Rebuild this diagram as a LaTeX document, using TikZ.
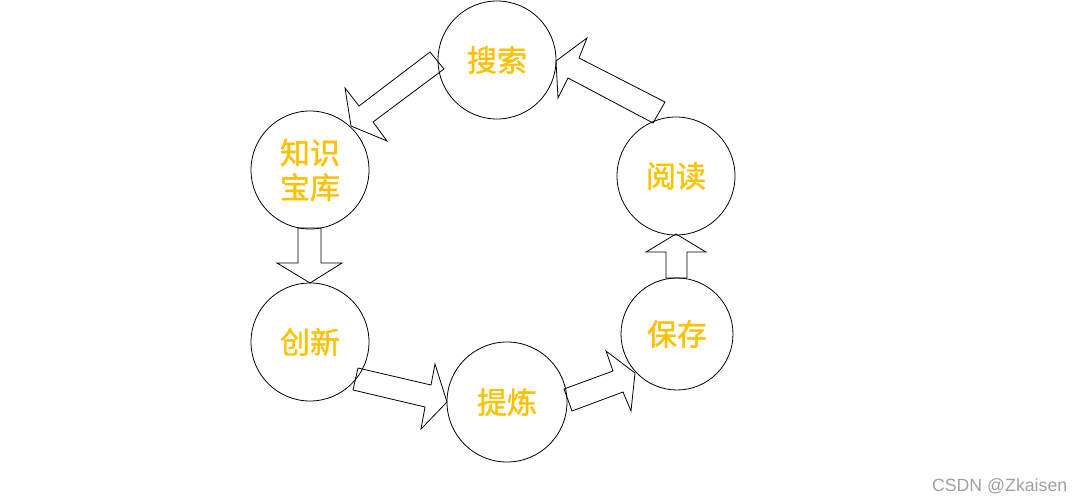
\documentclass[tikz,border=0pt]{standalone}
\usepackage{fontspec}
\newfontfamily\cjk[FakeBold=1.3]{Noto Sans CJK SC}
\newfontfamily\wm{Liberation Sans}
\definecolor{gold}{HTML}{FFC000}
\definecolor{wmgray}{HTML}{A0A0A0}
\tikzset{
  bubble/.style={circle, draw=black, line width=0.6pt, inner sep=0pt, font=\cjk\fontsize{22.5}{27}\selectfont, text=gold, align=center},
  blockarrow/.style={draw=black, line width=0.6pt, line join=miter}
}
\begin{document}
\begin{tikzpicture}[x=0.75pt,y=-0.75pt]
\useasboundingbox (0,0) rectangle (1087,502);
\node[bubble, minimum size=88.5pt] (ss) at (497,60) {搜索};
\node[bubble, minimum size=88.5pt] (zs) at (310,170) {知识\\[-1pt]宝库};
\node[bubble, minimum size=88.5pt] (cx) at (310,342) {创新};
\node[bubble, minimum size=90pt] (tl) at (507,402) {提炼};
\node[bubble, minimum size=84pt] (bc) at (677,334) {保存};
\node[bubble, minimum size=88.5pt] (yd) at (676,176) {阅读};
% arrow: 搜索 -> 知识宝库
\draw[blockarrow] (430,52) -- (444,69) -- (373,122) -- (387,141) -- (351,126) -- (345,88) -- (359,106) -- cycle;
% arrow: 阅读 -> 搜索
\draw[blockarrow] (665,102) -- (653,123) -- (568,78) -- (558,98) -- (556,61) -- (587,38) -- (579,58) -- cycle;
% arrow: 知识宝库 -> 创新
\draw[blockarrow] (298,228) -- (321,228) -- (321,263) -- (342,263) -- (310,283) -- (277,263) -- (298,263) -- cycle;
% arrow: 保存 -> 阅读
\draw[blockarrow] (666,278) -- (687,278) -- (687,252) -- (706,252) -- (676,234) -- (646,252) -- (666,252) -- cycle;
% arrow: 创新 -> 提炼
\draw[blockarrow] (358,368) -- (431,385) -- (435,364) -- (447,402) -- (421,429) -- (425,407) -- (353,390) -- cycle;
% arrow: 提炼 -> 保存
\draw[blockarrow] (564,389) -- (613,371) -- (606,351) -- (635,373) -- (631,411) -- (623,392) -- (572,411) -- cycle;
\node[font=\wm\fontsize{13.3}{15}\selectfont, text=wmgray, anchor=east] (wmark) at (1072,486) {CSDN @Zkaisen};
\end{tikzpicture}
\end{document}
